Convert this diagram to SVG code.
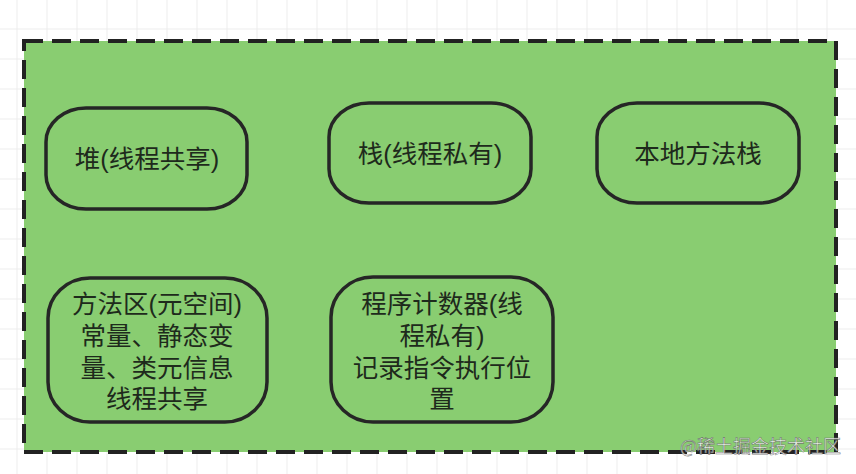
<svg xmlns="http://www.w3.org/2000/svg" width="856" height="474" viewBox="0 0 856 474">
  <style>
    .node rect { fill: #89cd71; stroke: #262626; stroke-width: 3.5; }
    .node text { font-family: "Liberation Sans", "Noto Sans CJK SC", sans-serif; font-size: 25.5px; fill: #1e2a1c; text-anchor: middle; }
    .wm { font-family: "Noto Sans CJK SC", sans-serif; font-size: 18px; fill: #ffffff; stroke: #6a6a6a; stroke-width: 0.6; opacity: 0.85; }
  </style>
  <defs>
    <pattern id="grid" patternUnits="userSpaceOnUse" x="16.5" y="28.5" width="30" height="30">
      <path d="M0 0.5 H30 M0.5 0 V30" fill="none" stroke="#ececec" stroke-width="1"/>
    </pattern>
  </defs>
  <rect x="0" y="0" width="856" height="474" fill="#ffffff"/>
  <rect x="0" y="0" width="856" height="474" fill="url(#grid)"/>

  <g id="frame">
    <rect x="24" y="41" width="812" height="411" fill="#89cd71" stroke="#222222" stroke-width="4" stroke-dasharray="19 9"/>
  </g>

  <g id="connectors"></g>

  <g id="heap" class="node">
    <rect x="46" y="108" width="201" height="101" rx="40" ry="34"/>
    <text x="147" y="168">堆(线程共享)</text>
  </g>

  <g id="stack" class="node">
    <rect x="329" y="103" width="202" height="100" rx="40" ry="34"/>
    <text x="430" y="163">栈(线程私有)</text>
  </g>

  <g id="native-stack" class="node">
    <rect x="597" y="103" width="202" height="100" rx="40" ry="34"/>
    <text x="698" y="163">本地方法栈</text>
  </g>

  <g id="method-area" class="node">
    <rect x="48" y="278" width="219" height="144" rx="42" ry="40"/>
    <text x="157" y="313">方法区(元空间)</text>
    <text x="157" y="345">常量、静态变</text>
    <text x="157" y="377">量、类元信息</text>
    <text x="157" y="408">线程共享</text>
  </g>

  <g id="pc-register" class="node">
    <rect x="331" y="277" width="222" height="145" rx="42" ry="40"/>
    <text x="442" y="313">程序计数器(线</text>
    <text x="442" y="345">程私有)</text>
    <text x="442" y="377">记录指令执行位</text>
    <text x="442" y="408">置</text>
  </g>

  <text class="wm" x="680" y="453">@稀土掘金技术社区</text>
</svg>
